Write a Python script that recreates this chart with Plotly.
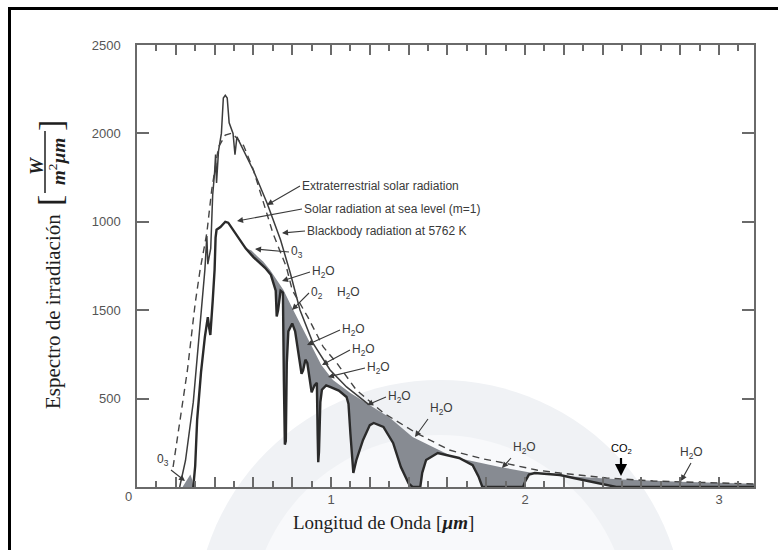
import plotly.graph_objects as go
import numpy as np

# ---------------- data ----------------
# Extraterrestrial solar radiation (thin solid line)
et_x = [0.22, 0.25, 0.29, 0.32, 0.35, 0.36, 0.365, 0.38, 0.39, 0.40, 0.405, 0.41, 0.42, 0.435,
        0.445, 0.455, 0.465, 0.475, 0.495, 0.505, 0.515, 0.60, 0.67, 0.74, 0.79, 0.84, 0.907,
        0.995, 1.08, 1.19, 1.30, 1.42, 1.63, 1.87, 2.04, 2.20, 2.50, 2.80, 3.00, 3.18]
et_y = [0, 150, 480, 850, 1230, 1420, 1260, 1350, 1650, 1780, 1880, 1720, 1900, 2000,
        2200, 2215, 2200, 2060, 2000, 1880, 1980, 1790, 1606, 1397, 1210, 1001, 814,
        662, 566, 470, 395, 283, 170, 113, 79, 62, 42, 30, 24, 19]

# Solar radiation at sea level, m=1 (thick solid line)
sea_x = [0.29, 0.30, 0.31, 0.33, 0.35, 0.36, 0.365, 0.372, 0.378, 0.39, 0.40, 0.405, 0.41, 0.43,
         0.455, 0.47, 0.495, 0.53, 0.56, 0.60, 0.63, 0.66, 0.69, 0.705, 0.715, 0.72, 0.727,
         0.74, 0.752, 0.757, 0.762, 0.767, 0.772, 0.78, 0.80, 0.815, 0.83, 0.848, 0.856,
         0.868, 0.878, 0.89, 0.90, 0.915, 0.927, 0.931, 0.934, 0.938, 0.945, 0.953, 0.975,
         0.995, 1.04, 1.08, 1.09, 1.10, 1.115, 1.13, 1.165, 1.20, 1.22, 1.27, 1.32, 1.36,
         1.40, 1.42, 1.46, 1.47, 1.49, 1.55, 1.60, 1.66, 1.73, 1.76, 1.78, 1.99, 2.00, 2.02,
         2.05, 2.18, 2.25, 2.35, 2.44, 2.47, 3.18]
sea_y = [0, 120, 380, 650, 850, 930, 960, 900, 860, 1050, 1230, 1410, 1455, 1470,
         1500, 1495, 1455, 1397, 1350, 1300, 1268, 1240, 1200, 1150, 1110, 965, 1000,
         1110, 1100, 600, 240, 260, 700, 880, 925, 880, 780, 640, 660,
         720, 700, 600, 535, 575, 590, 300, 140, 200, 480, 550, 575,
         566, 545, 509, 470, 300, 80, 150, 266, 350, 362, 340, 249, 113,
         20, 0, 0, 80, 153, 192, 180, 164, 124, 60, 0, 0, 30, 70,
         79, 68, 51, 28, 11, 0, 0]

# Blackbody radiation at 5762 K (dashed line)
bb_x = [0.186, 0.22, 0.26, 0.30, 0.325, 0.36, 0.385, 0.42, 0.455, 0.49, 0.55, 0.60, 0.70, 0.77,
        0.80, 0.88, 0.96, 1.03, 1.13, 1.27, 1.44, 1.61, 1.78, 1.89, 2.06, 2.18, 2.42, 2.66,
        3.00, 3.18]
bb_y = [113, 360, 662, 1040, 1227, 1437, 1680, 1923, 1990, 2002, 1930, 1793, 1437, 1244,
        1114, 962, 792, 701, 549, 419, 305, 209, 160, 136, 96, 79, 51, 34,
        23, 17]

# Upper envelope of the shaded absorption bands (before it joins the extraterrestrial curve)
env_x = [0.56, 0.59, 0.62, 0.65, 0.686, 0.72, 0.755, 0.80, 0.857, 0.91, 0.95, 1.01, 1.10]
env_y = [1350, 1338, 1305, 1275, 1227, 1170, 1114, 1012, 888, 775, 690, 605, 532]

# Small O3 band in the ultraviolet
o3uv_x = [0.235, 0.255, 0.275, 0.285, 0.29]
o3uv_y = [0, 35, 70, 40, 0]

# Tick labels
x_tickvals = [0.2, 0.4, 0.6, 0.8, 1.0, 1.2, 1.4, 1.6, 1.8, 2.0, 2.2, 2.4, 2.6, 2.8, 3.0]
x_ticktext = ["", "", "", "", "1", "", "", "", "", "2", "", "", "", "", "3"]
x_minorvals = [0.1, 0.3, 0.5, 0.7, 0.9, 1.1, 1.3, 1.5, 1.7, 1.9, 2.1, 2.3, 2.5, 2.7, 2.9, 3.1]
y_tickvals = [500, 1000, 1500, 2000, 2500]
y_ticktext = ["500", "1500", "1000", "2000", "2500"]

# ---------------- layout geometry ----------------
W, H = 778, 550
L, R, T, B = 137, 754, 45, 487
XMAX, YMAX = 3.18, 2500


def dx(px):
    return (px - L) / (R - L) * XMAX


def dy(py):
    return (B - py) / (B - T) * YMAX


def px_(px):
    return (px - L) / (R - L)


def py_(py):
    return (B - py) / (B - T)


fig = go.Figure()

# shaded absorption region: envelope + extraterrestrial (beyond 1.19) down to sea level
etx = np.array(et_x)
ety = np.array(et_y)
top_x = list(env_x) + list(etx[etx >= 1.19])
top_y = list(env_y) + list(ety[etx >= 1.19])
sx = np.array(sea_x)
sy = np.array(sea_y)
m = (sx >= top_x[0]) & (sx <= top_x[-1])
poly_x = top_x + list(sx[m][::-1])
poly_y = top_y + list(sy[m][::-1])
fig.add_trace(go.Scatter(x=poly_x, y=poly_y, mode="lines", fill="toself",
                         fillcolor="#878b92", line=dict(width=0), hoverinfo="skip",
                         showlegend=False))
fig.add_trace(go.Scatter(x=o3uv_x, y=o3uv_y, mode="lines", fill="toself",
                         fillcolor="#878b92", line=dict(width=0), hoverinfo="skip",
                         showlegend=False))

# extraterrestrial (visible part of the line)
mk = etx <= 1.19
fig.add_trace(go.Scatter(x=list(etx[mk]), y=list(ety[mk]), mode="lines",
                         line=dict(color="#3c3c3c", width=1.5), showlegend=False))
# blackbody
fig.add_trace(go.Scatter(x=bb_x, y=bb_y, mode="lines",
                         line=dict(color="#444444", width=1.4, dash="7px,5px"),
                         showlegend=False))
# sea level
fig.add_trace(go.Scatter(x=sea_x, y=sea_y, mode="lines",
                         line=dict(color="#2a2a2a", width=2.4), showlegend=False))

# ---------------- annotations ----------------
lab_font = dict(family="Liberation Sans, Arial", size=12, color="#3a3a3a")
ann = []


def arrow(text, tx, ty, hx, hy, xa="left", ya="middle", color="#3a3a3a", width=1.1,
          size=12, head=2, asize=1.1):
    ann.append(dict(text=text, x=dx(hx), y=dy(hy), ax=dx(tx), ay=dy(ty), xref="x", yref="y",
                    axref="x", ayref="y", xanchor=xa, yanchor=ya, showarrow=True,
                    arrowhead=head, arrowsize=asize, arrowwidth=width, arrowcolor=color,
                    font=dict(family="Liberation Sans, Arial", size=size, color=color)))


arrow("Extraterrestrial solar radiation", 300, 186, 267, 205)
arrow("Solar radiation at sea level (m=1)", 302, 209, 237, 221)
arrow("Blackbody radiation at 5762 K", 305, 231, 282, 233)
arrow("0<sub>3</sub>", 289, 252, 255, 249)
arrow("H<sub>2</sub>O", 310, 272, 282, 281)
arrow("0<sub>2</sub>", 309, 293, 292, 310)
ann.append(dict(text="H<sub>2</sub>O", x=dx(335), y=dy(293), xref="x", yref="y",
                xanchor="left", yanchor="middle", showarrow=False, font=lab_font))
arrow("H<sub>2</sub>O", 340, 330, 307, 345)
arrow("H<sub>2</sub>O", 350, 350, 322, 365)
arrow("H<sub>2</sub>O", 365, 368, 328, 377)
arrow("H<sub>2</sub>O", 386, 397, 367, 405)
arrow("H<sub>2</sub>O", 428, 419, 415, 437, xa="left", ya="bottom")
arrow("H<sub>2</sub>O", 511, 458, 502, 468, xa="left", ya="bottom")
arrow("CO<sub>2</sub>", 621, 458, 621, 476, xa="center", ya="bottom", color="#000000",
      width=2.2, size=11)
arrow("H<sub>2</sub>O", 691, 463, 681, 481, xa="center", ya="bottom")
arrow("0<sub>3</sub>", 171, 470, 185, 481, xa="right", ya="bottom")

# "0" at the origin
ann.append(dict(text="0", x=px_(128), y=py_(497), xref="paper", yref="paper",
                xanchor="center", yanchor="middle", showarrow=False,
                font=dict(family="Liberation Sans, Arial", size=13, color="#555555")))

# axis titles
serif = "Liberation Serif, Times New Roman, serif"
ann.append(dict(text="Longitud de Onda [<b><i>µm</i></b>]", x=px_(383), y=py_(522),
                xref="paper", yref="paper", xanchor="center", yanchor="middle",
                showarrow=False, font=dict(family=serif, size=19, color="#1e1e1e")))
ann.append(dict(text="Espectro de irradiación", x=px_(53), y=py_(312), xref="paper",
                yref="paper", textangle=-90, xanchor="center", yanchor="middle",
                showarrow=False, font=dict(family=serif, size=21, color="#1e1e1e")))
ann.append(dict(text="[", x=px_(50), y=py_(201), xref="paper", yref="paper", textangle=-90,
                xanchor="center", yanchor="middle", showarrow=False,
                font=dict(family=serif, size=34, color="#1e1e1e")))
ann.append(dict(text="]", x=px_(50), y=py_(126), xref="paper", yref="paper", textangle=-90,
                xanchor="center", yanchor="middle", showarrow=False,
                font=dict(family=serif, size=34, color="#1e1e1e")))
ann.append(dict(text="<b><i>W</i></b>", x=px_(36), y=py_(166), xref="paper", yref="paper",
                textangle=-90, xanchor="center", yanchor="middle", showarrow=False,
                font=dict(family=serif, size=19, color="#1e1e1e")))
ann.append(dict(text="<b><i>m</i></b><sup>2</sup><b><i>µm</i></b>", x=px_(57), y=py_(162),
                xref="paper", yref="paper", textangle=-90, xanchor="center",
                yanchor="middle", showarrow=False,
                font=dict(family=serif, size=19, color="#1e1e1e")))

# faint circular watermark behind the lower part of the chart (decoration)
th = np.linspace(0, 2 * np.pi, 121)


def ring_path(cx, cy, r):
    pts = ["%s%.4f,%.4f" % ("M" if i == 0 else "L", px_(cx + r * np.cos(t)),
                            py_(cy + r * np.sin(t))) for i, t in enumerate(th)]
    return " ".join(pts) + " Z"


shapes = [
    dict(type="path", xref="paper", yref="paper", path=ring_path(440, 625, 245),
         fillcolor="#f0f2f5", line=dict(width=0), layer="below"),
    dict(type="path", xref="paper", yref="paper", path=ring_path(440, 625, 190),
         fillcolor="#f8f9fb", line=dict(width=0), layer="below"),
    # fraction bar
    dict(type="line", xref="paper", yref="paper", x0=px_(45), x1=px_(45), y0=py_(131),
         y1=py_(193), line=dict(color="#1e1e1e", width=1.5)),
    # outer frame
    dict(type="rect", xref="paper", yref="paper", x0=px_(9.5), x1=px_(800), y0=py_(8.5),
         y1=py_(580), line=dict(color="#000000", width=3)),
]

axis_col = "#6a6a6a"
fig.update_layout(
    width=W, height=H,
    margin=dict(l=L, r=W - R, t=T, b=H - B),
    paper_bgcolor="white", plot_bgcolor="rgba(0,0,0,0)",
    showlegend=False,
    annotations=ann, shapes=shapes,
    xaxis=dict(range=[0, XMAX], showline=True, linecolor=axis_col, linewidth=1.5,
               mirror="ticks", ticks="inside", ticklen=10, tickwidth=1.5, tickcolor=axis_col,
               tickmode="array", tickvals=x_tickvals, ticktext=x_ticktext,
               tickfont=dict(family="Liberation Sans, Arial", size=13, color="#555555"),
               showgrid=False, zeroline=False, layer="above traces",
               minor=dict(ticks="inside", ticklen=6, tickmode="array", tickvals=x_minorvals,
                          tickcolor=axis_col, tickwidth=1.5, showgrid=False)),
    yaxis=dict(range=[0, YMAX], showline=True, linecolor=axis_col, linewidth=1.5,
               mirror="ticks", ticks="inside", ticklen=12, tickwidth=1.5, tickcolor=axis_col,
               tickmode="array", tickvals=y_tickvals, ticktext=y_ticktext,
               tickfont=dict(family="Liberation Sans, Arial", size=13, color="#555555"),
               ticklabelstandoff=12, showgrid=False, zeroline=False, layer="above traces"),
)

fig.write_html("out.html")
